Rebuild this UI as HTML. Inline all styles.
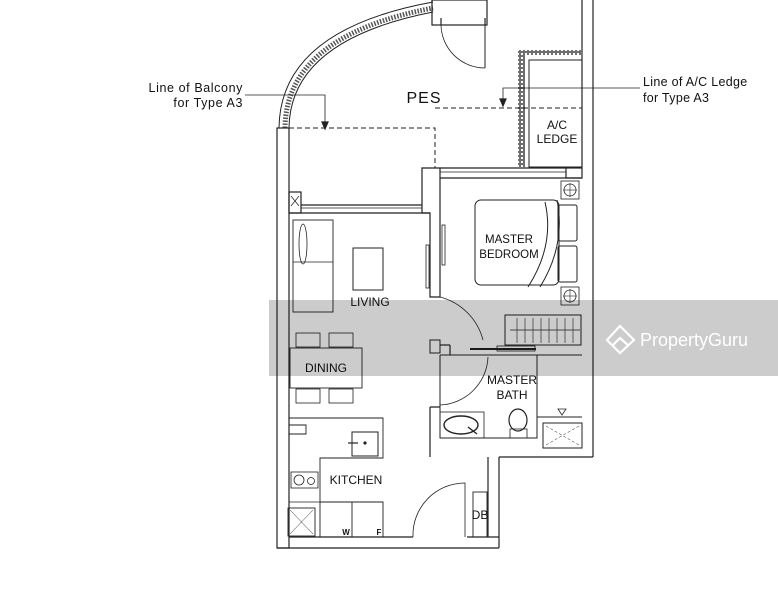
<!DOCTYPE html>
<html><head><meta charset="utf-8"><style>
html,body{margin:0;padding:0;background:#fff;}
svg{display:block}
text{font-family:"Liberation Sans",sans-serif;fill:#111}
</style></head><body>
<svg width="778" height="600" viewBox="0 0 778 600" xmlns="http://www.w3.org/2000/svg">
<defs>
<pattern id="hat" width="4" height="4" patternUnits="userSpaceOnUse"><rect x="0.5" y="0.5" width="3" height="3" fill="none" stroke="#333" stroke-width="0.7"/></pattern>
</defs>
<g fill="none" stroke="#222" stroke-width="1.2">
<path d="M279 128 Q280 30 433 2" stroke-width="1"/>
<path d="M285 128 Q286 36 433 8" stroke="#555" stroke-width="5" stroke-dasharray="1.5 1.5"/>
<path d="M289 128 Q290 40 433 12" stroke-width="1"/>
<rect x="432" y="0" width="55" height="25"/>
<line x1="441" y1="18" x2="441" y2="25"/><line x1="485" y1="18" x2="485" y2="25"/>
<line x1="485" y1="25" x2="485" y2="68" stroke-width="1"/>
<path d="M441 25 A44 44 0 0 0 485 68" stroke-width="0.8"/>
<line x1="582" y1="0" x2="582" y2="167"/>
<line x1="593" y1="0" x2="593" y2="457"/>
<rect x="518" y="50" width="63" height="5" fill="url(#hat)" stroke="none"/>
<rect x="518" y="55" width="7" height="112" fill="url(#hat)" stroke="none"/>
<rect x="529" y="60" width="53" height="107" stroke-width="1"/>
<path d="M289 128 H435 V168 M435 108 H582" stroke-dasharray="5 3" stroke-width="1"/>
<path d="M245 95 H325 V124" stroke-width="0.8"/>
<path d="M322 122 L325 129 L328 122 Z" fill="#222"/>
<path d="M640 88 H503 V101" stroke-width="0.8"/>
<path d="M500 99 L503 106 L506 99 Z" fill="#222"/>
<rect x="277" y="128" width="12" height="420"/>
<line x1="277" y1="548" x2="499" y2="548"/>
<line x1="289" y1="537" x2="413" y2="537"/>
<line x1="467" y1="537" x2="499" y2="537"/>
<line x1="499" y1="457" x2="499" y2="548"/>
<line x1="499" y1="457" x2="593" y2="457"/>
<line x1="488" y1="457" x2="488" y2="537"/>
<rect x="289" y="192" width="12" height="21"/>
<line x1="291" y1="196" x2="299" y2="206" stroke-width="0.7"/><line x1="299" y1="196" x2="291" y2="206" stroke-width="0.7"/>
<line x1="301" y1="205" x2="422" y2="205"/><line x1="301" y1="208" x2="422" y2="208" stroke-width="0.7"/><line x1="289" y1="213" x2="430" y2="213"/>
<path d="M422 168 H440 V297 H430 V213 H422 Z"/>
<line x1="440" y1="168" x2="566" y2="168"/><line x1="440" y1="172" x2="566" y2="172" stroke-width="0.7"/><line x1="440" y1="178" x2="582" y2="178"/>
<rect x="566" y="168" width="16" height="10"/>
<rect x="426" y="245" width="3" height="43" stroke-width="0.8"/>
<rect x="442" y="225" width="3" height="40" stroke-width="0.8"/>
<rect x="475" y="200" width="84" height="85" rx="6" stroke-width="1"/>
<path d="M545 202 Q555 245 528 287 M557 200 Q566 245 540 287" stroke-width="1"/>
<rect x="558" y="205" width="19" height="36" rx="2" stroke-width="1"/>
<rect x="558" y="246" width="19" height="36" rx="2" stroke-width="1"/>
<rect x="561" y="181" width="18" height="18" stroke-width="0.8"/><circle cx="570" cy="190" r="6" stroke-width="0.8"/>
<line x1="570" y1="183" x2="570" y2="197" stroke-width="0.6"/><line x1="563" y1="190" x2="577" y2="190" stroke-width="0.6"/>
<rect x="561" y="287" width="18" height="18" stroke-width="0.8"/><circle cx="570" cy="296" r="6" stroke-width="0.8"/>
<line x1="570" y1="289" x2="570" y2="303" stroke-width="0.6"/><line x1="563" y1="296" x2="577" y2="296" stroke-width="0.6"/>
<rect x="293" y="220" width="40" height="92" stroke-width="0.9"/>
<line x1="293" y1="262" x2="333" y2="262" stroke-width="0.8"/>
<ellipse cx="303" cy="244" rx="4" ry="20" stroke-width="0.8"/>
<rect x="353" y="248" width="30" height="42" stroke-width="1"/>
<path d="M440 297 A60 60 0 0 1 483 340" stroke-width="0.8"/>
<rect x="430" y="340" width="10" height="13" stroke-width="1"/>
<line x1="440" y1="345" x2="450" y2="345"/><line x1="450" y1="345" x2="450" y2="355"/>
<rect x="505" y="315" width="76" height="30" stroke-width="1"/>
<line x1="510" y1="330" x2="580" y2="330" stroke-width="0.8"/>
<path d="M517 318 V343 M525 318 V343 M533 318 V343 M541 318 V343 M549 318 V343 M557 318 V343 M565 318 V343 M573 318 V343" stroke-width="0.6"/>
<line x1="470" y1="349" x2="536" y2="349" stroke-width="2"/>
<rect x="497" y="346" width="38" height="5" stroke-width="0.8"/>
<path d="M440 355 H582 M537 355 V417 H582 M440 355 V438 H537 V355" stroke-width="1"/>
<path d="M430 407 V457 M430 407 H440" />
<path d="M440 405 A50 50 0 0 0 488 357" stroke-width="0.8"/>
<rect x="440" y="412" width="44" height="26" stroke-width="0.8"/>
<ellipse cx="461" cy="425" rx="17" ry="9" stroke-width="1.4"/>
<line x1="468" y1="427" x2="477" y2="434" stroke-width="1.4"/>
<ellipse cx="518" cy="420" rx="9" ry="11" stroke-width="1.2"/>
<rect x="510" y="429" width="17" height="9" stroke-width="0.8"/>
<path d="M558 409 L562 415 L566 409 Z" stroke-width="0.8"/>
<rect x="543" y="423" width="39" height="25" stroke-width="1"/>
<path d="M546 426 L579 445 M579 426 L546 445" stroke-width="0.5" stroke-dasharray="3 2"/>
<rect x="296" y="333" width="24" height="14" stroke-width="0.8"/><rect x="329" y="333" width="24" height="14" stroke-width="0.8"/>
<rect x="290" y="348" width="72" height="40" stroke-width="0.9"/>
<rect x="296" y="389" width="24" height="14" stroke-width="0.8"/><rect x="329" y="389" width="24" height="14" stroke-width="0.8"/>
<path d="M289 418 H383 V458 H320 V537" stroke-width="0.9"/>
<path d="M289 425 H306 V434 H289" stroke-width="0.9"/>
<rect x="352" y="432" width="26" height="24" stroke-width="1"/>
<line x1="348" y1="443" x2="358" y2="443"/><circle cx="365" cy="443" r="1" fill="#222"/>
<rect x="291" y="472" width="27" height="16" stroke-width="0.8"/>
<circle cx="299" cy="480" r="5" stroke-width="0.8"/><circle cx="311" cy="481" r="3.5" stroke-width="0.8"/>
<line x1="289" y1="502" x2="320" y2="502" stroke-width="0.8"/>
<path d="M320 502 H383 V537 M352 502 V537" stroke-width="0.9"/>
<rect x="288" y="508" width="27" height="28" stroke-width="0.9"/>
<path d="M290 510 L313 534 M313 510 L290 534" stroke-width="0.5"/>
<rect x="473" y="492" width="14" height="45" stroke-width="0.9"/>
<path d="M413 537 A52 52 0 0 1 465 483 V537" stroke-width="0.8"/>
</g>
<g font-size="12">
<text x="243" y="92" text-anchor="end" font-size="12.5" letter-spacing="0.6">Line of Balcony</text>
<text x="243" y="107" text-anchor="end" font-size="12.5" letter-spacing="0.6">for Type A3</text>
<text x="643" y="86" font-size="12.5" letter-spacing="0.3">Line of A/C Ledge</text>
<text x="643" y="102" font-size="12.5" letter-spacing="0.3">for Type A3</text>
<text x="424" y="103" text-anchor="middle" font-size="16" letter-spacing="1">PES</text>
<text x="557" y="129" text-anchor="middle">A/C</text>
<text x="557" y="143" text-anchor="middle">LEDGE</text>
<text x="509" y="243" text-anchor="middle" font-size="11.5">MASTER</text>
<text x="509" y="258" text-anchor="middle" font-size="11.5">BEDROOM</text>
<text x="370" y="306" text-anchor="middle">LIVING</text>
<text x="326" y="372" text-anchor="middle">DINING</text>
<text x="512" y="384" text-anchor="middle">MASTER</text>
<text x="512" y="399" text-anchor="middle">BATH</text>
<text x="356" y="484" text-anchor="middle">KITCHEN</text>
<text x="480" y="519" text-anchor="middle">DB</text>
<text x="346" y="535" text-anchor="middle" font-size="8" font-weight="bold">W</text>
<text x="379" y="535" text-anchor="middle" font-size="8" font-weight="bold">F</text>
</g>
<rect x="269" y="300" width="509" height="76" fill="#000" fill-opacity="0.2"/>
<g fill="none" stroke="#fff" stroke-width="2.2">
<path d="M607 340 L620 326 L634 340 L620 353 Z"/>
<path d="M612 346 L620 338 L629 346"/>
</g>
<text x="640" y="346" font-size="18" style="fill:#fff">PropertyGuru</text>
</svg>
</body></html>
